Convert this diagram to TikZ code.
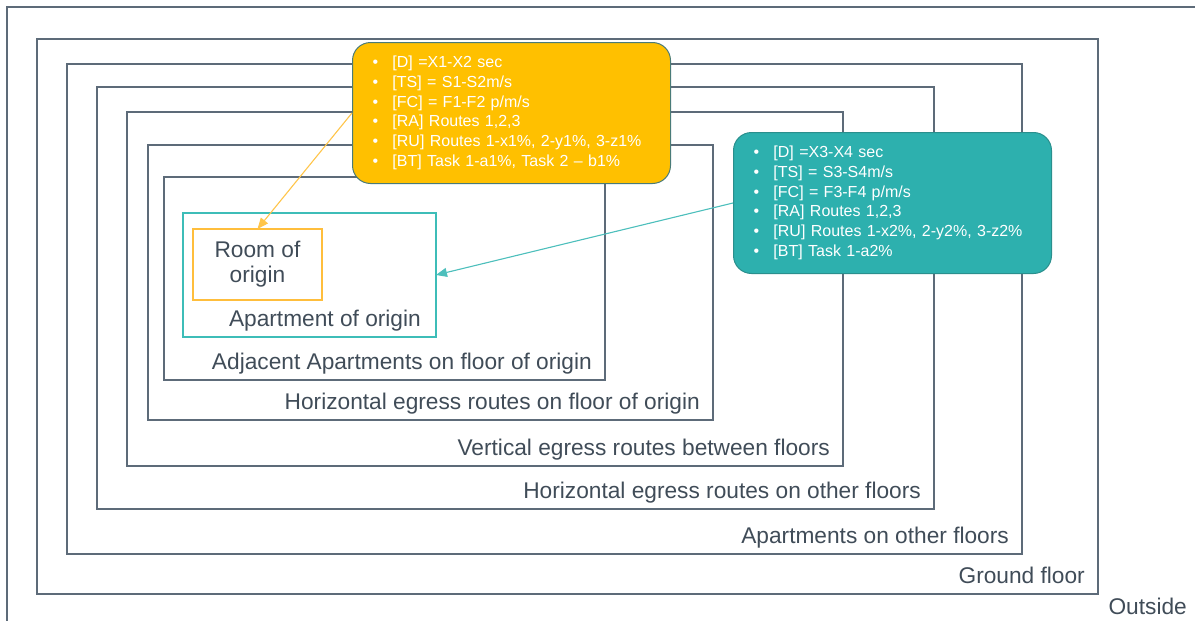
\documentclass[tikz,border=0pt]{standalone}
\usepackage{fontspec}
\setmainfont{Liberation Sans}
\usetikzlibrary{arrows.meta}

\definecolor{zoneline}{HTML}{5D6B79}
\definecolor{labeltext}{HTML}{404C58}
\definecolor{gold}{HTML}{FFC000}
\definecolor{goldedge}{HTML}{4A7B78}
\definecolor{goldarrow}{HTML}{FFC54A}
\definecolor{roomedge}{HTML}{FFBE3C}
\definecolor{teal}{HTML}{2DB0AE}
\definecolor{tealedge}{HTML}{2A8F8D}
\definecolor{tealarrow}{HTML}{4DBFBC}
\definecolor{aptedge}{HTML}{3DBDB8}

\newcommand\cbul{\makebox[20pt][l]{\textbullet}}

\tikzset{
  zone/.style={draw=zoneline, line width=1.05pt, inner sep=0pt, outer sep=0pt, anchor=north west},
  zonelabel/.style={text=labeltext, font=\fontsize{22.7}{26}\selectfont, inner sep=0pt, anchor=base east},
  callout/.style={rounded corners=18pt, line width=1pt, inner xsep=20pt, inner ysep=0pt,
    anchor=north west, align=left, text=white, text width=278pt, minimum height=141pt,
    font=\fontsize{16}{19.7}\selectfont},
  pointer/.style={line width=1.1pt, -{Triangle[length=11pt,width=9pt]}}
}

\begin{document}
\begin{tikzpicture}[x=1pt,y=-1pt]
\useasboundingbox (0,0) rectangle (1195,621);

% outermost boundary: only the left and top edges fall inside the sheet
\draw[zoneline, line width=1.05pt] (7,630) -- (7,7) -- (1200,7);
\node[zonelabel] (outsidelbl) at (1187,614) {Outside};

% nested zones, outermost first
\node[zone, minimum width=1061pt, minimum height=555pt] (gf)  at (37,39)  {};
\node[zone, minimum width=955pt,  minimum height=490pt] (aof) at (67,64)  {};
\node[zone, minimum width=837pt,  minimum height=422pt] (hof) at (97,87)  {};
\node[zone, minimum width=716pt,  minimum height=354pt] (vef) at (127,112) {};
\node[zone, minimum width=565pt,  minimum height=275pt] (hfo) at (148,145) {};
\node[zone, minimum width=441pt,  minimum height=203pt] (adj) at (164,177) {};
\node[zone, draw=aptedge, minimum width=253pt, minimum height=124pt] (apt) at (183,213) {};
\node[zone, draw=roomedge, minimum width=129pt, minimum height=71pt, align=center,
      text=labeltext, font=\fontsize{22.7}{25}\selectfont] (room) at (193,229) {Room of\\origin};

% zone captions, set in the lower right corner of each zone
\node[zonelabel] (gflbl)  at ([xshift=-13pt,yshift=11pt]gf.south east)  {Ground floor};
\node[zonelabel] (aoflbl) at ([xshift=-13pt,yshift=11pt]aof.south east) {Apartments on other floors};
\node[zonelabel] (hoflbl) at ([xshift=-13pt,yshift=11pt]hof.south east) {Horizontal egress routes on other floors};
\node[zonelabel] (veflbl) at ([xshift=-13pt,yshift=11pt]vef.south east) {Vertical egress routes between floors};
\node[zonelabel] (hfolbl) at ([xshift=-13pt,yshift=11pt]hfo.south east) {Horizontal egress routes on floor of origin};
\node[zonelabel] (adjlbl) at ([xshift=-13pt,yshift=11pt]adj.south east) {Adjacent Apartments on floor of origin};
\node[zonelabel] (aptlbl) at ([xshift=-15pt,yshift=11pt]apt.south east) {Apartment of origin};

% parameter call-outs
\node[callout, fill=gold, draw=goldedge] (callroom) at (352,42) {%
\cbul[D] =X1-X2 sec\\
\cbul[TS] = S1-S2m/s\\
\cbul[FC] = F1-F2 p/m/s\\
\cbul[RA] Routes 1,2,3\\
\cbul[RU] Routes 1-x1\%, 2-y1\%, 3-z1\%\\
\cbul[BT] Task 1-a1\%, Task 2 – b1\%};

\node[callout, fill=teal, draw=tealedge] (callapt) at (733,132) {%
\cbul[D] =X3-X4 sec\\
\cbul[TS] = S3-S4m/s\\
\cbul[FC] = F3-F4 p/m/s\\
\cbul[RA] Routes 1,2,3\\
\cbul[RU] Routes 1-x2\%, 2-y2\%, 3-z2\%\\
\cbul[BT] Task 1-a2\%};

% pointers from the call-outs to the zones they describe
\draw[pointer, goldarrow] (callroom.west) -- (room.north);
\draw[pointer, tealarrow] (callapt.west) -- (apt.east);
\end{tikzpicture}
\end{document}
